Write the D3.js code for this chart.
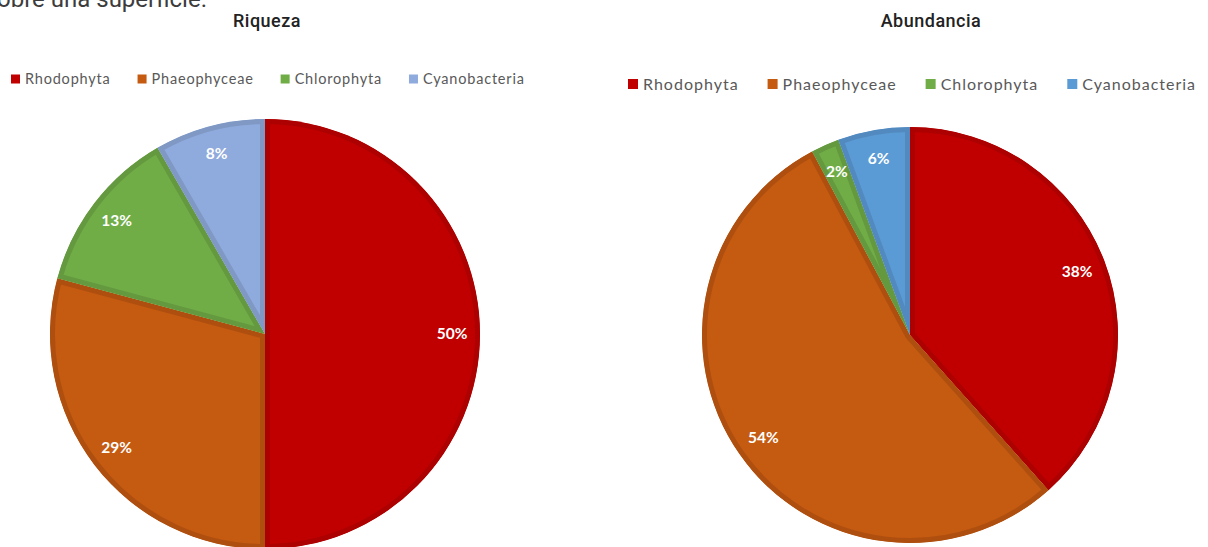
<!DOCTYPE html>
<html><head><meta charset="utf-8">
<script src="https://cdn.jsdelivr.net/npm/d3@7"></script>
<style>body{margin:0;background:#fff;overflow:hidden}svg{display:block}</style>
</head><body>
<svg id="c" width="1208" height="547"></svg>
<script>
const categories = ["Rhodophyta", "Phaeophyceae", "Chlorophyta", "Cyanobacteria"];
const riquezaValues = [12, 7, 3, 2];
const abundanciaValues = [38.4, 53.8, 2.2, 5.6];
const chartTitles = ["Riqueza", "Abundancia"];
const topText = "obre una superficie.";

const fillsLeft = ["#C00000", "#C55A11", "#70AD47", "#8FAADC"];
const strokesLeft = ["#AD0000", "#AF4F0F", "#64993F", "#7F98C4"];
const fillsRight = ["#C00000", "#C55A11", "#70AD47", "#5B9BD5"];
const strokesRight = ["#AD0000", "#AF4F0F", "#64993F", "#528AC0"];

const svg = d3.select("#c");

svg.append("text").attr("x", -3).attr("y", 7).text(topText)
  .attr("font-family", "Roboto, sans-serif").attr("font-size", 24).attr("fill", "#3c3c3c");

function drawPie(cfg) {
  const g = svg.append("g").attr("transform", `translate(${cfg.cx},${cfg.cy})`);
  const pie = d3.pie().sort(null).startAngle(0).endAngle(2 * Math.PI);
  const arcs = pie(cfg.values);
  const arc = d3.arc().innerRadius(0).outerRadius(cfg.r);
  const total = d3.sum(cfg.values);
  const color = d3.scaleOrdinal().domain(categories).range(cfg.fills);
  const stroke = d3.scaleOrdinal().domain(categories).range(cfg.strokes);
  arcs.forEach((a, i) => {
    const id = cfg.id + "clip" + i;
    svg.append("clipPath").attr("id", id).append("path").attr("d", arc(a));
    g.append("path").attr("d", arc(a)).attr("fill", color(categories[i]))
      .attr("stroke", stroke(categories[i])).attr("stroke-width", 10)
      .attr("clip-path", `url(#${id})`);
  });
  const labelArc = d3.arc().innerRadius(cfg.r * cfg.lr).outerRadius(cfg.r * cfg.lr);
  g.selectAll("text.lbl").data(arcs).enter().append("text")
    .attr("transform", d => `translate(${labelArc.centroid(d)})`)
    .attr("text-anchor", "middle").attr("dy", "0.35em")
    .attr("font-family", "Lato, 'Open Sans', sans-serif").attr("font-weight", "bold")
    .attr("font-size", cfg.lfs).attr("fill", "#fff")
    .text(d => Math.round(d.value / total * 100) + "%");

  svg.append("text").attr("x", cfg.tx).attr("y", cfg.ty).attr("text-anchor", "middle")
    .attr("font-family", "Roboto, sans-serif").attr("font-weight", 500).attr("font-size", 18)
    .attr("letter-spacing", 0.5).attr("fill", "#222").text(cfg.title);

  const lg = svg.append("g");
  let x = cfg.lx;
  categories.forEach((c, i) => {
    lg.append("rect").attr("x", x).attr("y", cfg.ly - cfg.sq / 2).attr("width", cfg.sq).attr("height", cfg.sq)
      .attr("fill", color(c));
    const t = lg.append("text").attr("x", x + cfg.sq + 5).attr("y", cfg.ly).attr("dy", "0.35em")
      .attr("font-family", "Lato, sans-serif").attr("font-size", cfg.lgfs).attr("letter-spacing", cfg.ls)
      .attr("fill", "#595959").text(c);
    x += cfg.sq + 5 + t.node().getComputedTextLength() + cfg.gap;
  });
}

drawPie({id: "L", values: riquezaValues, cx: 265, cy: 334, r: 215, lr: 0.87, lfs: 15.5,
  fills: fillsLeft, strokes: strokesLeft, title: chartTitles[0], tx: 267, ty: 27,
  lx: 11, ly: 79, sq: 9, lgfs: 14.5, ls: 0.8, gap: 27});
drawPie({id: "R", values: abundanciaValues, cx: 910, cy: 335, r: 208, lr: 0.86, lfs: 15.5,
  fills: fillsRight, strokes: strokesRight, title: chartTitles[1], tx: 931, ty: 27,
  lx: 628, ly: 84, sq: 10, lgfs: 16, ls: 1.0, gap: 29});
</script>
</body></html>
